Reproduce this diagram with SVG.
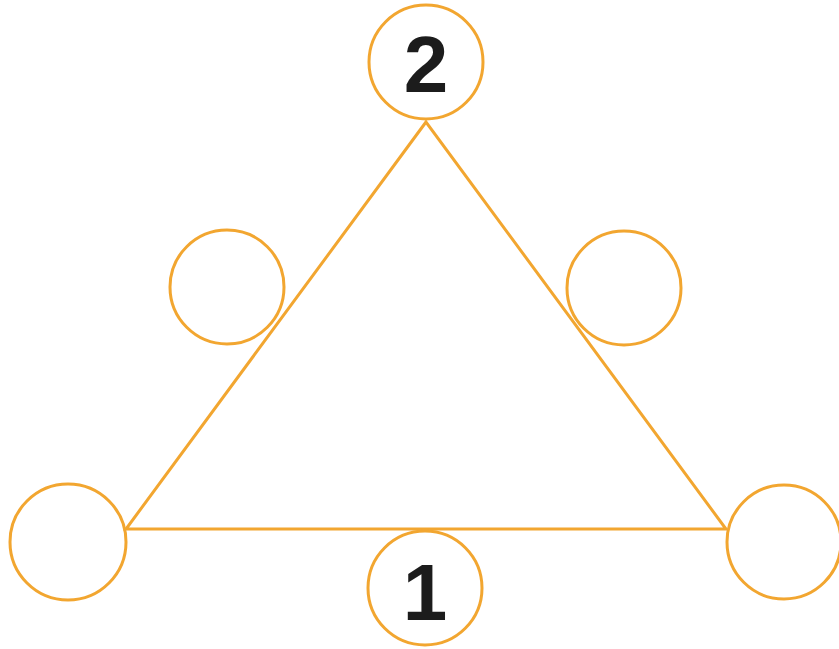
<svg xmlns="http://www.w3.org/2000/svg" width="839" height="649" viewBox="0 0 839 649">
<style>
.c{fill:none;stroke:#F2A630;stroke-width:3}
.e{fill:none;stroke:#F2A630;stroke-width:3;stroke-linejoin:miter}
.t{font-family:"Liberation Sans",Arial,sans-serif;font-weight:bold;font-size:80px;fill:#1c1c1c;text-anchor:middle}
</style>
<rect width="839" height="649" fill="#ffffff"/>
<g id="connectors">
<polygon class="e" points="426,122 126,529 726,529"/>
</g>
<g id="node2"><circle class="c" cx="426" cy="62" r="57"/><text class="t" x="426" y="92">2</text></g>
<g id="node1"><circle class="c" cx="425" cy="588" r="57"/><text class="t" x="425" y="620">1</text></g>
<g id="nodeBL"><circle class="c" cx="68" cy="542" r="58"/></g>
<g id="nodeBR"><circle class="c" cx="784" cy="542" r="57"/></g>
<g id="nodeML"><circle class="c" cx="227" cy="287" r="57"/></g>
<g id="nodeMR"><circle class="c" cx="624" cy="288" r="57"/></g>
</svg>
